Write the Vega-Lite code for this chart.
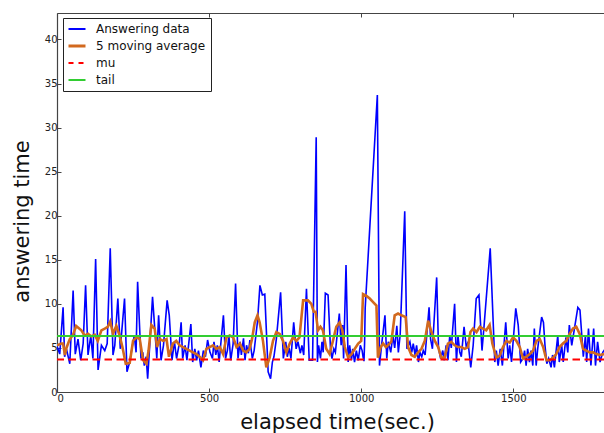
{
  "$schema": "https://vega.github.io/schema/vega-lite/v6.json",
  "width": 547,
  "height": 379,
  "autosize": {"type": "none"},
  "padding": {"left": 57, "top": 13, "right": 0, "bottom": 41},
  "background": "white",
  "config": {
    "font": "DejaVu Sans",
    "view": {"stroke": null},
    "axis": {
      "domainColor": "#444444",
      "domainWidth": 1.2,
      "tickColor": "#444444",
      "labelColor": "#222222",
      "labelFontSize": 10,
      "labelFont": "DejaVu Sans",
      "titleFont": "DejaVu Sans",
      "titleFontWeight": "normal",
      "titleColor": "#111111",
      "titleFontSize": 21,
      "grid": false
    }
  },
  "datasets": {
    "answers": [
      {"t": 0, "v": 5.2}, {"t": 9, "v": 4.3}, {"t": 20, "v": 9.6}, {"t": 25, "v": 4.0}, {"t": 31, "v": 4.9},
      {"t": 42, "v": 3.2}, {"t": 53, "v": 11.5}, {"t": 60, "v": 4.3}, {"t": 69, "v": 6.0}, {"t": 78, "v": 3.6},
      {"t": 86, "v": 5.5}, {"t": 94, "v": 12.1}, {"t": 102, "v": 4.2}, {"t": 111, "v": 6.4}, {"t": 118, "v": 3.8},
      {"t": 127, "v": 15.1}, {"t": 135, "v": 2.5}, {"t": 146, "v": 5.3}, {"t": 157, "v": 4.7}, {"t": 165, "v": 5.5},
      {"t": 175, "v": 16.3}, {"t": 184, "v": 4.2}, {"t": 190, "v": 5.3}, {"t": 200, "v": 10.6}, {"t": 208, "v": 4.9},
      {"t": 222, "v": 10.6}, {"t": 230, "v": 2.3}, {"t": 239, "v": 3.4}, {"t": 248, "v": 5.3}, {"t": 254, "v": 6.4},
      {"t": 260, "v": 4.5}, {"t": 265, "v": 12.5}, {"t": 276, "v": 3.8}, {"t": 282, "v": 4.5}, {"t": 287, "v": 3.0},
      {"t": 293, "v": 4.0}, {"t": 298, "v": 1.5}, {"t": 306, "v": 6.0}, {"t": 314, "v": 10.8}, {"t": 323, "v": 6.4},
      {"t": 328, "v": 3.8}, {"t": 334, "v": 8.7}, {"t": 342, "v": 3.6}, {"t": 350, "v": 5.3}, {"t": 362, "v": 10.4},
      {"t": 369, "v": 8.7}, {"t": 378, "v": 3.6}, {"t": 386, "v": 5.7}, {"t": 393, "v": 3.8}, {"t": 402, "v": 5.5},
      {"t": 408, "v": 7.9}, {"t": 413, "v": 3.8}, {"t": 421, "v": 5.3}, {"t": 427, "v": 3.6}, {"t": 440, "v": 7.7},
      {"t": 446, "v": 3.4}, {"t": 453, "v": 4.9}, {"t": 459, "v": 3.6}, {"t": 465, "v": 4.7}, {"t": 473, "v": 2.8},
      {"t": 481, "v": 4.7}, {"t": 488, "v": 4.0}, {"t": 495, "v": 5.9}, {"t": 503, "v": 4.5}, {"t": 511, "v": 3.8},
      {"t": 516, "v": 5.7}, {"t": 522, "v": 4.2}, {"t": 527, "v": 5.3}, {"t": 533, "v": 3.4}, {"t": 538, "v": 5.3},
      {"t": 547, "v": 8.7}, {"t": 554, "v": 3.8}, {"t": 560, "v": 4.7}, {"t": 565, "v": 6.4}, {"t": 571, "v": 3.6},
      {"t": 579, "v": 5.5}, {"t": 587, "v": 12.3}, {"t": 595, "v": 3.8}, {"t": 602, "v": 5.7}, {"t": 606, "v": 4.2},
      {"t": 613, "v": 6.1}, {"t": 618, "v": 3.6}, {"t": 623, "v": 5.3}, {"t": 629, "v": 4.4}, {"t": 634, "v": 5.9},
      {"t": 642, "v": 3.8}, {"t": 648, "v": 4.7}, {"t": 659, "v": 8.0}, {"t": 667, "v": 12.1}, {"t": 675, "v": 11.0},
      {"t": 683, "v": 11.1}, {"t": 694, "v": 2.3}, {"t": 702, "v": 1.5}, {"t": 708, "v": 3.4}, {"t": 713, "v": 4.0},
      {"t": 721, "v": 6.0}, {"t": 735, "v": 11.3}, {"t": 744, "v": 3.8}, {"t": 752, "v": 5.7}, {"t": 757, "v": 4.0},
      {"t": 763, "v": 5.0}, {"t": 769, "v": 3.8}, {"t": 778, "v": 7.9}, {"t": 786, "v": 4.9}, {"t": 792, "v": 5.7},
      {"t": 800, "v": 4.4}, {"t": 805, "v": 5.3}, {"t": 811, "v": 4.2}, {"t": 820, "v": 11.7}, {"t": 829, "v": 3.6},
      {"t": 840, "v": 3.6}, {"t": 852, "v": 28.9}, {"t": 856, "v": 3.4}, {"t": 860, "v": 5.3}, {"t": 866, "v": 3.8},
      {"t": 871, "v": 5.7}, {"t": 875, "v": 4.5}, {"t": 882, "v": 11.2}, {"t": 891, "v": 11.0}, {"t": 899, "v": 4.9},
      {"t": 904, "v": 3.8}, {"t": 910, "v": 4.9}, {"t": 915, "v": 4.5}, {"t": 928, "v": 8.9}, {"t": 934, "v": 5.3},
      {"t": 939, "v": 7.6}, {"t": 942, "v": 3.8}, {"t": 950, "v": 14.4}, {"t": 957, "v": 3.4}, {"t": 962, "v": 5.3},
      {"t": 968, "v": 3.6}, {"t": 972, "v": 4.9}, {"t": 978, "v": 3.4}, {"t": 984, "v": 4.7}, {"t": 990, "v": 3.6},
      {"t": 997, "v": 5.3}, {"t": 1003, "v": 4.7}, {"t": 1006, "v": 4.0}, {"t": 1009, "v": 3.5}, {"t": 1011, "v": 5.5},
      {"t": 1013, "v": 9.5}, {"t": 1053, "v": 33.7}, {"t": 1060, "v": 3.0}, {"t": 1066, "v": 5.0}, {"t": 1078, "v": 8.7},
      {"t": 1084, "v": 3.8}, {"t": 1089, "v": 5.7}, {"t": 1097, "v": 4.5}, {"t": 1104, "v": 6.4}, {"t": 1110, "v": 5.0},
      {"t": 1117, "v": 7.5}, {"t": 1122, "v": 4.5}, {"t": 1128, "v": 6.5}, {"t": 1143, "v": 20.5}, {"t": 1150, "v": 4.9},
      {"t": 1160, "v": 5.7}, {"t": 1166, "v": 4.5}, {"t": 1171, "v": 5.5}, {"t": 1177, "v": 4.2}, {"t": 1182, "v": 5.3},
      {"t": 1188, "v": 3.4}, {"t": 1193, "v": 4.5}, {"t": 1199, "v": 4.0}, {"t": 1204, "v": 4.7}, {"t": 1210, "v": 4.2},
      {"t": 1223, "v": 9.6}, {"t": 1228, "v": 6.0}, {"t": 1234, "v": 4.9}, {"t": 1248, "v": 13.0}, {"t": 1254, "v": 5.0},
      {"t": 1261, "v": 3.8}, {"t": 1268, "v": 4.7}, {"t": 1273, "v": 3.6}, {"t": 1279, "v": 5.3}, {"t": 1285, "v": 3.6},
      {"t": 1291, "v": 6.4}, {"t": 1296, "v": 5.0}, {"t": 1307, "v": 10.0}, {"t": 1313, "v": 3.4}, {"t": 1318, "v": 6.4},
      {"t": 1324, "v": 4.5}, {"t": 1329, "v": 4.0}, {"t": 1338, "v": 7.4}, {"t": 1346, "v": 4.9}, {"t": 1351, "v": 5.7},
      {"t": 1360, "v": 2.8}, {"t": 1368, "v": 5.3}, {"t": 1378, "v": 10.6}, {"t": 1387, "v": 11.0}, {"t": 1397, "v": 4.7},
      {"t": 1404, "v": 7.6}, {"t": 1424, "v": 16.3}, {"t": 1439, "v": 3.4}, {"t": 1444, "v": 4.7}, {"t": 1450, "v": 3.0},
      {"t": 1457, "v": 4.9}, {"t": 1464, "v": 3.0}, {"t": 1475, "v": 7.9}, {"t": 1483, "v": 3.8}, {"t": 1488, "v": 5.3},
      {"t": 1494, "v": 3.4}, {"t": 1508, "v": 9.5}, {"t": 1516, "v": 7.6}, {"t": 1524, "v": 3.4}, {"t": 1532, "v": 3.8},
      {"t": 1537, "v": 4.7}, {"t": 1542, "v": 3.0}, {"t": 1547, "v": 4.9}, {"t": 1553, "v": 3.4}, {"t": 1558, "v": 4.7},
      {"t": 1564, "v": 3.0}, {"t": 1569, "v": 7.2}, {"t": 1575, "v": 3.0}, {"t": 1580, "v": 4.9}, {"t": 1593, "v": 8.5},
      {"t": 1599, "v": 7.9}, {"t": 1604, "v": 5.3}, {"t": 1610, "v": 3.2}, {"t": 1616, "v": 3.8}, {"t": 1624, "v": 2.8},
      {"t": 1629, "v": 4.2}, {"t": 1635, "v": 2.8}, {"t": 1646, "v": 6.4}, {"t": 1651, "v": 3.4}, {"t": 1659, "v": 5.3},
      {"t": 1664, "v": 3.4}, {"t": 1673, "v": 6.2}, {"t": 1679, "v": 4.5}, {"t": 1684, "v": 7.6}, {"t": 1692, "v": 5.3},
      {"t": 1712, "v": 9.6}, {"t": 1719, "v": 9.3}, {"t": 1730, "v": 4.0}, {"t": 1737, "v": 6.4}, {"t": 1741, "v": 3.4},
      {"t": 1747, "v": 7.2}, {"t": 1755, "v": 3.0}, {"t": 1764, "v": 7.2}, {"t": 1770, "v": 3.0}, {"t": 1777, "v": 5.7},
      {"t": 1785, "v": 3.4}, {"t": 1794, "v": 4.5}, {"t": 1800, "v": 4.8}
    ],
    "moving": [
      {"t": 0, "v": 5.3}, {"t": 14, "v": 5.5}, {"t": 20, "v": 5.5}, {"t": 26, "v": 4.2}, {"t": 31, "v": 5.0},
      {"t": 42, "v": 6.0}, {"t": 53, "v": 6.5}, {"t": 63, "v": 7.5}, {"t": 70, "v": 7.3}, {"t": 80, "v": 7.0},
      {"t": 91, "v": 6.4}, {"t": 102, "v": 6.6}, {"t": 113, "v": 6.3}, {"t": 124, "v": 6.5}, {"t": 134, "v": 5.8},
      {"t": 146, "v": 7.0}, {"t": 157, "v": 7.2}, {"t": 167, "v": 7.4}, {"t": 175, "v": 8.0}, {"t": 184, "v": 6.6},
      {"t": 195, "v": 7.5}, {"t": 205, "v": 6.5}, {"t": 215, "v": 5.1}, {"t": 226, "v": 3.2}, {"t": 239, "v": 3.3},
      {"t": 250, "v": 5.8}, {"t": 261, "v": 6.2}, {"t": 272, "v": 6.0}, {"t": 283, "v": 3.6}, {"t": 294, "v": 3.2},
      {"t": 301, "v": 4.7}, {"t": 310, "v": 7.6}, {"t": 321, "v": 7.2}, {"t": 329, "v": 5.1}, {"t": 338, "v": 6.0},
      {"t": 349, "v": 5.8}, {"t": 360, "v": 6.0}, {"t": 368, "v": 4.0}, {"t": 381, "v": 5.5}, {"t": 392, "v": 5.8},
      {"t": 403, "v": 5.3}, {"t": 414, "v": 5.1}, {"t": 425, "v": 4.9}, {"t": 436, "v": 4.7}, {"t": 447, "v": 4.5},
      {"t": 458, "v": 4.3}, {"t": 469, "v": 4.0}, {"t": 480, "v": 3.6}, {"t": 491, "v": 4.9}, {"t": 502, "v": 5.1},
      {"t": 513, "v": 5.3}, {"t": 524, "v": 4.9}, {"t": 535, "v": 5.1}, {"t": 546, "v": 4.3}, {"t": 557, "v": 6.2},
      {"t": 568, "v": 6.4}, {"t": 579, "v": 6.2}, {"t": 590, "v": 5.1}, {"t": 601, "v": 5.5}, {"t": 612, "v": 4.7},
      {"t": 622, "v": 4.5}, {"t": 633, "v": 4.9}, {"t": 641, "v": 6.0}, {"t": 650, "v": 7.9}, {"t": 659, "v": 8.7},
      {"t": 666, "v": 7.9}, {"t": 677, "v": 5.8}, {"t": 688, "v": 2.8}, {"t": 699, "v": 3.9}, {"t": 710, "v": 5.8},
      {"t": 721, "v": 6.8}, {"t": 732, "v": 6.6}, {"t": 743, "v": 5.8}, {"t": 754, "v": 4.5}, {"t": 765, "v": 5.5},
      {"t": 776, "v": 6.2}, {"t": 787, "v": 5.8}, {"t": 797, "v": 6.2}, {"t": 809, "v": 10.4}, {"t": 825, "v": 10.4},
      {"t": 836, "v": 10.0}, {"t": 844, "v": 9.1}, {"t": 850, "v": 9.1}, {"t": 858, "v": 7.0}, {"t": 866, "v": 7.4},
      {"t": 874, "v": 7.0}, {"t": 885, "v": 4.9}, {"t": 896, "v": 4.3}, {"t": 907, "v": 5.8}, {"t": 918, "v": 7.4},
      {"t": 929, "v": 7.9}, {"t": 938, "v": 7.0}, {"t": 946, "v": 5.1}, {"t": 957, "v": 3.9}, {"t": 968, "v": 4.3},
      {"t": 979, "v": 4.9}, {"t": 990, "v": 5.5}, {"t": 1000, "v": 5.8}, {"t": 1006, "v": 11.1}, {"t": 1017, "v": 10.9},
      {"t": 1028, "v": 10.6}, {"t": 1039, "v": 10.2}, {"t": 1050, "v": 9.8}, {"t": 1055, "v": 3.9}, {"t": 1064, "v": 5.1},
      {"t": 1072, "v": 5.5}, {"t": 1081, "v": 5.1}, {"t": 1088, "v": 5.3}, {"t": 1099, "v": 5.7}, {"t": 1110, "v": 8.7},
      {"t": 1121, "v": 8.9}, {"t": 1132, "v": 8.7}, {"t": 1146, "v": 8.5}, {"t": 1154, "v": 5.1}, {"t": 1165, "v": 4.2},
      {"t": 1176, "v": 4.0}, {"t": 1187, "v": 4.5}, {"t": 1198, "v": 4.9}, {"t": 1209, "v": 5.8}, {"t": 1220, "v": 8.1},
      {"t": 1231, "v": 6.8}, {"t": 1242, "v": 5.8}, {"t": 1253, "v": 5.1}, {"t": 1263, "v": 3.9}, {"t": 1274, "v": 3.9},
      {"t": 1285, "v": 5.5}, {"t": 1296, "v": 5.7}, {"t": 1307, "v": 5.3}, {"t": 1318, "v": 5.1}, {"t": 1329, "v": 5.1},
      {"t": 1340, "v": 4.9}, {"t": 1351, "v": 5.1}, {"t": 1359, "v": 6.8}, {"t": 1368, "v": 7.2}, {"t": 1379, "v": 6.8},
      {"t": 1390, "v": 7.4}, {"t": 1400, "v": 7.2}, {"t": 1411, "v": 7.0}, {"t": 1422, "v": 7.6}, {"t": 1431, "v": 5.5},
      {"t": 1444, "v": 3.9}, {"t": 1455, "v": 4.1}, {"t": 1466, "v": 5.1}, {"t": 1477, "v": 5.8}, {"t": 1488, "v": 5.6},
      {"t": 1499, "v": 6.2}, {"t": 1510, "v": 5.8}, {"t": 1521, "v": 5.1}, {"t": 1532, "v": 3.8}, {"t": 1543, "v": 4.0},
      {"t": 1554, "v": 4.3}, {"t": 1565, "v": 4.7}, {"t": 1576, "v": 5.8}, {"t": 1587, "v": 6.0}, {"t": 1598, "v": 5.1},
      {"t": 1609, "v": 3.6}, {"t": 1620, "v": 3.6}, {"t": 1631, "v": 3.9}, {"t": 1641, "v": 4.3}, {"t": 1652, "v": 5.1},
      {"t": 1663, "v": 5.5}, {"t": 1674, "v": 5.8}, {"t": 1685, "v": 6.6}, {"t": 1696, "v": 7.2}, {"t": 1707, "v": 7.4},
      {"t": 1718, "v": 6.6}, {"t": 1729, "v": 4.9}, {"t": 1740, "v": 4.7}, {"t": 1751, "v": 4.5}, {"t": 1762, "v": 4.5},
      {"t": 1773, "v": 4.3}, {"t": 1784, "v": 4.2}, {"t": 1798, "v": 4.3}
    ],
    "mu": [{"v": 3.7}],
    "tail": [{"v": 6.35}]
  },
  "encoding": {
    "y": {
      "field": "v",
      "type": "quantitative",
      "scale": {"domain": [0, 43], "nice": false, "zero": false},
      "axis": {
        "title": "answering time",
        "values": [0, 5, 10, 15, 20, 25, 30, 35, 40],
        "tickSize": -4,
        "labelPadding": 4,
        "titleX": -35,
        "titleY": 208,
        "titleBaseline": "middle",
        "titleAngle": 270
      }
    }
  },
  "layer": [
    {
      "data": {"name": "answers"},
      "mark": {"type": "line", "strokeWidth": 1.6, "clip": true},
      "encoding": {
        "x": {
          "field": "t",
          "type": "quantitative",
          "scale": {"domain": [0, 1798], "nice": false, "zero": false},
          "axis": {
            "title": "elapsed time(sec.)",
            "values": [0, 500, 1000, 1500],
            "format": "d",
            "tickSize": -4,
            "labelPadding": 5,
            "labelBaseline": "top",
            "titleX": 280,
            "titleY": 36,
            "titleBaseline": "alphabetic"
          }
        },
        "color": {
          "datum": "Answering data",
          "type": "nominal",
          "scale": {
            "domain": ["Answering data", "5 moving average", "mu", "tail"],
            "range": ["#0000ff", "#d2691e", "#ff0000", "#32cd32"]
          },
          "legend": {
            "title": null,
            "orient": "none",
            "legendX": 6,
            "legendY": 5,
            "symbolType": "stroke",
            "symbolSize": 289,
            "symbolOffset": 3,
            "labelOffset": 13,
            "labelFont": "DejaVu Sans",
            "labelFontSize": 12,
            "labelColor": "#111111",
            "labelLimit": 300,
            "padding": 5,
            "rowPadding": 5,
            "strokeColor": "#222222",
            "fillColor": "white",
            "cornerRadius": 0,
            "encode": {
              "symbols": {
                "update": {
                  "strokeDash": {"signal": "datum.value === 'mu' ? [5, 5] : [1, 0]"},
                  "strokeWidth": {"signal": "datum.value === '5 moving average' ? 3 : 2"}
                }
              }
            }
          }
        }
      }
    },
    {
      "data": {"name": "moving"},
      "mark": {"type": "line", "strokeWidth": 2.6, "clip": true},
      "encoding": {
        "x": {"field": "t", "type": "quantitative", "axis": null},
        "color": {"datum": "5 moving average", "type": "nominal"}
      }
    },
    {
      "data": {"name": "mu"},
      "mark": {"type": "rule", "strokeWidth": 2, "strokeDash": [7.5, 4.5]},
      "encoding": {
        "color": {"datum": "mu", "type": "nominal"}
      }
    },
    {
      "data": {"name": "tail"},
      "mark": {"type": "rule", "strokeWidth": 2},
      "encoding": {
        "color": {"datum": "tail", "type": "nominal"}
      }
    },
    {
      "data": {"name": "answers"},
      "mark": {"type": "line", "strokeOpacity": 0, "clip": true},
      "encoding": {
        "x": {
          "field": "t",
          "type": "quantitative",
          "axis": {
            "orient": "top",
            "title": null,
            "labels": false,
            "values": [0, 500, 1000, 1500],
            "tickSize": -4
          }
        }
      }
    }
  ],
  "resolve": {"axis": {"x": "independent"}}
}
